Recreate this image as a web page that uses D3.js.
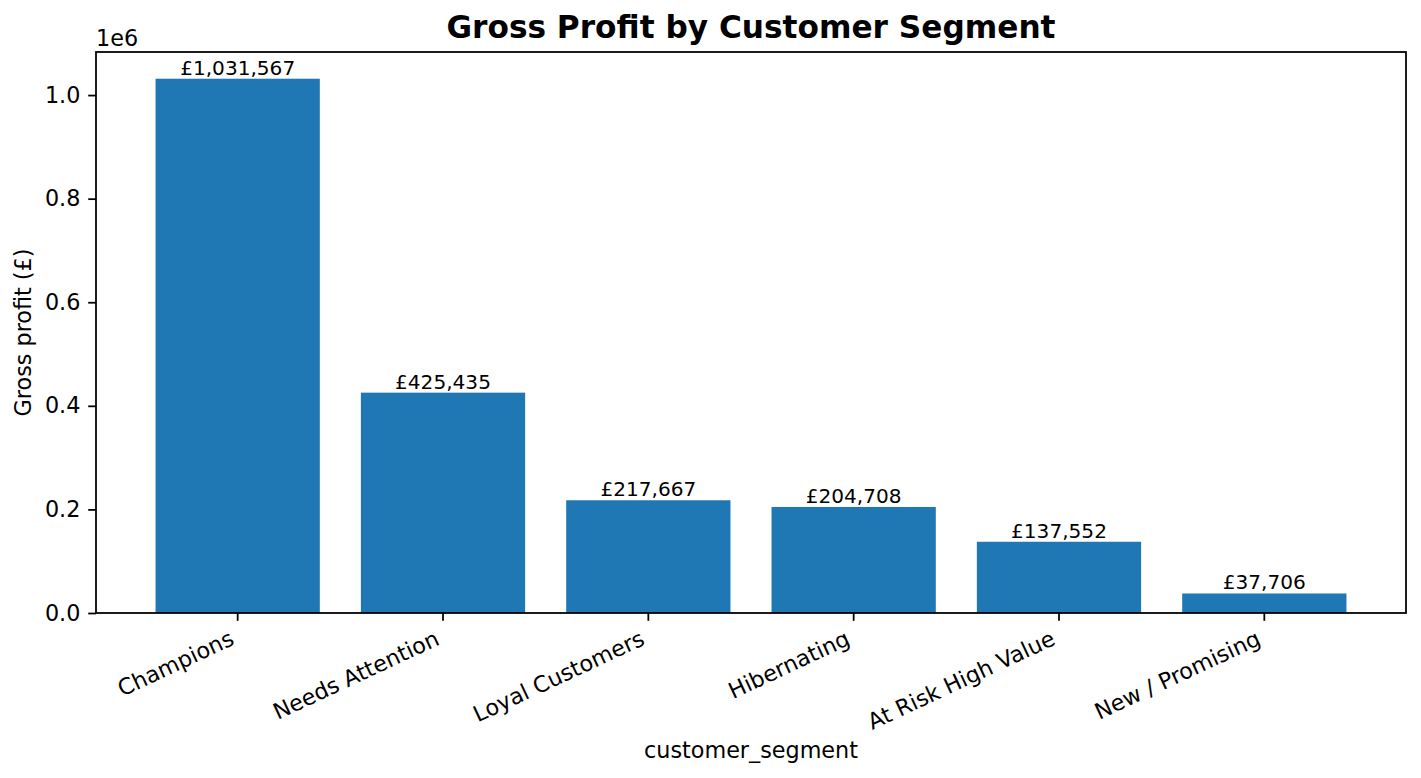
<!DOCTYPE html>
<html>
<head>
<meta charset="utf-8">
<script src="https://cdn.jsdelivr.net/npm/d3@7"></script>
<style>
  html, body { margin: 0; padding: 0; background: #ffffff; }
  svg { display: block; font-family: "DejaVu Sans", sans-serif; }
</style>
</head>
<body>
<svg id="chart" width="1421" height="778"></svg>
<script>
const categories = ["Champions", "Needs Attention", "Loyal Customers", "Hibernating", "At Risk High Value", "New / Promising"];
const grossProfit = [1031567, 425435, 217667, 204708, 137552, 37706];
const yTickValues = [0, 200000, 400000, 600000, 800000, 1000000];
const yTickLabels = ["0.0", "0.2", "0.4", "0.6", "0.8", "1.0"];

(function () {
const svg = d3.select("#chart");
const pLeft = 96, pRight = 1406, pTop = 52, pBottom = 613;
const tickFont = 22.3, labelFont = 22.3, titleFont = 31.2, barLabelFont = 20.1;
const tickLen = 7.8, tickPad = 7.8, lw = 1.78;
const ink = "#000000";

const x = d3.scaleBand()
  .domain(categories)
  .range([pLeft, pRight])
  .paddingInner(0.2)
  .paddingOuter(0.29);

const y = d3.scaleLinear()
  .domain([0, d3.max(grossProfit) * 1.05])
  .range([pBottom, pTop]);

// Bars
svg.append("g").selectAll("rect")
  .data(categories)
  .join("rect")
  .attr("x", d => x(d))
  .attr("y", (d, i) => y(grossProfit[i]))
  .attr("width", x.bandwidth())
  .attr("height", (d, i) => pBottom - y(grossProfit[i]))
  .attr("fill", "#1f77b4");

// Bar labels
const fmt = d3.format(",");
svg.append("g").selectAll("text")
  .data(categories)
  .join("text")
  .attr("x", d => x(d) + x.bandwidth() / 2)
  .attr("y", (d, i) => y(grossProfit[i]) - 4)
  .attr("text-anchor", "middle")
  .attr("font-size", barLabelFont)
  .attr("fill", ink)
  .text((d, i) => "£" + fmt(grossProfit[i]));

// Y axis
const yAxis = d3.axisLeft(y)
  .tickValues(yTickValues)
  .tickFormat((d, i) => yTickLabels[i])
  .tickSize(tickLen)
  .tickPadding(tickPad);
const gy = svg.append("g").attr("transform", `translate(${pLeft},0)`).call(yAxis);
gy.select(".domain").remove();
gy.selectAll(".tick line").attr("stroke", ink).attr("stroke-width", lw);
gy.selectAll(".tick text").attr("font-size", tickFont).attr("fill", ink).attr("font-family", "DejaVu Sans");

// X axis
const xAxis = d3.axisBottom(x).tickSize(tickLen).tickSizeOuter(0).tickFormat("");
const gx = svg.append("g").attr("transform", `translate(0,${pBottom})`).call(xAxis);
gx.select(".domain").remove();
gx.selectAll(".tick line").attr("stroke", ink).attr("stroke-width", lw);

const ang = 25 * Math.PI / 180;
const asc = 0.76 * tickFont, desc = 0.24 * tickFont;
const labelTop = pBottom + tickLen + tickPad;
svg.append("g").selectAll("text")
  .data(categories)
  .join("text")
  .attr("transform", d => {
    const tx = x(d) + x.bandwidth() / 2 - Math.sin(ang) * desc;
    const ty = labelTop + Math.cos(ang) * asc;
    return `translate(${tx},${ty}) rotate(-25)`;
  })
  .attr("text-anchor", "end")
  .attr("font-size", tickFont)
  .attr("fill", ink)
  .text(d => d);

// Frame
svg.append("rect")
  .attr("x", pLeft).attr("y", pTop)
  .attr("width", pRight - pLeft).attr("height", pBottom - pTop)
  .attr("fill", "none").attr("stroke", ink).attr("stroke-width", lw);

// Offset text
svg.append("text")
  .attr("x", pLeft).attr("y", 46)
  .attr("font-size", tickFont).attr("fill", ink)
  .text("1e6");

// Title
svg.append("text")
  .attr("x", (pLeft + pRight) / 2).attr("y", 38)
  .attr("text-anchor", "middle")
  .attr("font-size", titleFont).attr("font-weight", "bold").attr("fill", ink)
  .text("Gross Profit by Customer Segment");

// Axis labels
svg.append("text")
  .attr("x", (pLeft + pRight) / 2).attr("y", 758)
  .attr("text-anchor", "middle")
  .attr("font-size", labelFont).attr("fill", ink)
  .text("customer_segment");

svg.append("text")
  .attr("transform", `translate(31,${(pTop + pBottom) / 2}) rotate(-90)`)
  .attr("text-anchor", "middle")
  .attr("font-size", labelFont).attr("fill", ink)
  .text("Gross profit (£)");
})();
</script>
</body>
</html>
